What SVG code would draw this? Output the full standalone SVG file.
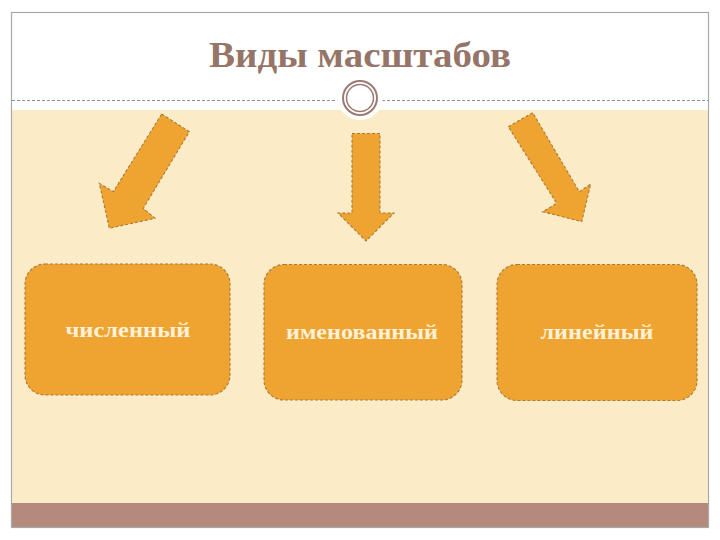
<svg xmlns="http://www.w3.org/2000/svg" width="720" height="540" viewBox="0 0 720 540">
<style>
.title{font-family:"Liberation Serif","DejaVu Serif",serif;font-weight:bold;font-size:36px;fill:#967569}
.lbl{font-family:"Liberation Serif","DejaVu Serif",serif;font-weight:bold;font-size:22px;fill:#fdf1d8}
.box{fill:#efa331;stroke:#a97b36;stroke-width:1.1;stroke-dasharray:3 2}
.arr{fill:#efa331;stroke:#a97b36;stroke-width:1.1;stroke-dasharray:3 2;stroke-linejoin:miter}
</style>
<rect x="0" y="0" width="720" height="540" fill="#ffffff"/>
<g id="frame">
<rect x="11.5" y="110" width="697" height="393" fill="#fcebc7"/>
<rect x="11.5" y="503" width="697" height="24.5" fill="#b38a7b"/>
<rect x="11.5" y="12.5" width="697" height="515" fill="none" stroke="#a9a9a9" stroke-width="1.2"/>
<line x1="12" y1="100.5" x2="708" y2="100.5" stroke="#8c8c8c" stroke-width="1" stroke-dasharray="3 2"/>
<circle cx="360" cy="97" r="23" fill="#ffffff"/>
<circle cx="360" cy="98" r="17" fill="none" stroke="#9c7a72" stroke-width="2"/>
<circle cx="360" cy="98" r="13.5" fill="none" stroke="#9c7a72" stroke-width="1.5"/>
</g>
<text class="title" x="360" y="67" text-anchor="middle" textLength="302" lengthAdjust="spacingAndGlyphs">Виды масштабов</text>
<g id="connectors">
<polygon class="arr" points="161.7,114 189.3,131.7 143.3,208.3 155,218.3 109.3,228.3 99.3,183.3 113.3,191.7"/>
<polygon class="arr" points="352,133.5 380,133.5 380,213 394,213 366,241 338,213 352,213"/>
<polygon class="arr" points="508.3,126.7 532.7,112.7 579.3,191.7 590.7,184 581.7,221.7 542.7,211.7 556.7,203.3"/>
</g>
<g id="node-chislenny">
<rect class="box" x="25" y="264" width="205" height="131" rx="20"/>
<text class="lbl" x="128" y="337" text-anchor="middle" textLength="125" lengthAdjust="spacingAndGlyphs">численный</text>
</g>
<g id="node-imenovanny">
<rect class="box" x="264" y="264.5" width="198" height="135.5" rx="20"/>
<text class="lbl" x="362" y="339" text-anchor="middle" textLength="152" lengthAdjust="spacingAndGlyphs">именованный</text>
</g>
<g id="node-lineyny">
<rect class="box" x="497" y="264.5" width="200" height="136" rx="20"/>
<text class="lbl" x="597" y="339" text-anchor="middle" textLength="113" lengthAdjust="spacingAndGlyphs">линейный</text>
</g>
</svg>
